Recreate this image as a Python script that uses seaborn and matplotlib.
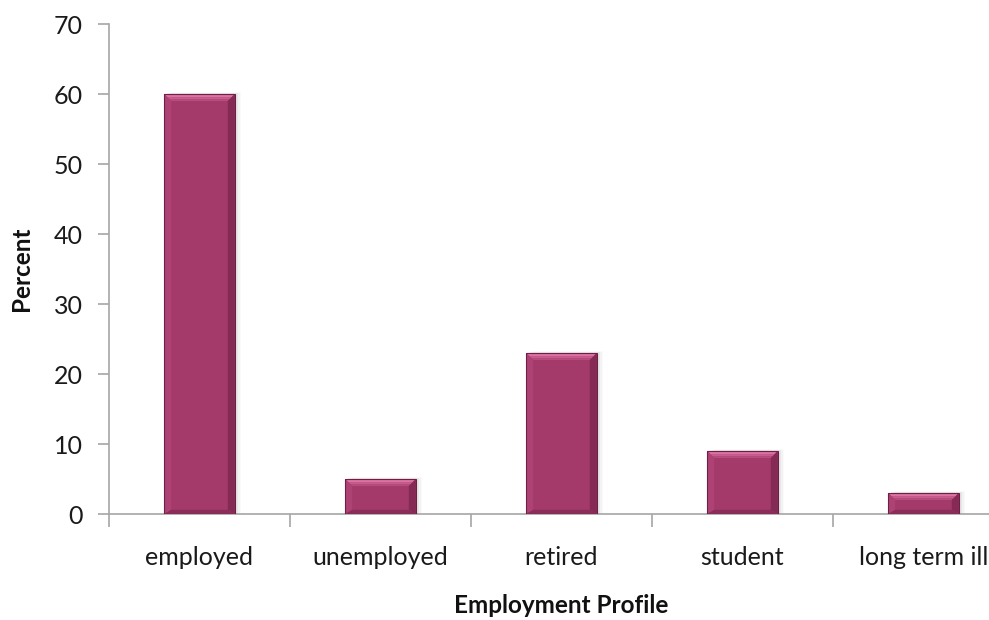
import matplotlib
matplotlib.use("Agg")
import matplotlib.pyplot as plt
from matplotlib.patches import Polygon, Rectangle
import seaborn as sns
import pandas as pd
import numpy as np

categories = ["employed", "unemployed", "retired", "student", "long term ill"]
percent = [60, 5, 23, 9, 3]
y_ticks = [0, 10, 20, 30, 40, 50, 60, 70]

sns.set_theme(style="white")
plt.rcParams["font.family"] = ["Lato", "DejaVu Sans"]

df = pd.DataFrame({"Employment Profile": categories, "Percent": percent})

W, H = 989, 620
fig = plt.figure(figsize=(W / 100, H / 100), dpi=100)
ax = fig.add_axes([109 / W, 106 / H, 905 / W, 490 / H])

base = "#A33A6A"
sns.barplot(data=df, x="Employment Profile", y="Percent", color=base,
            saturation=1, width=0.39, ax=ax, edgecolor="none", zorder=3)

ax.set_xlim(-0.5, len(categories) - 0.5)
ax.set_ylim(0, 70)
ax.set_yticks(y_ticks)
ax.set_yticklabels([str(t) for t in y_ticks])

# pixel sizes -> data units
px_x = (len(categories)) / 905.0
px_y = 70 / 490.0
bev = 7

for p in list(ax.patches):
    x0, w, h = p.get_x(), p.get_width(), p.get_height()
    x1 = x0 + w
    bx, by = bev * px_x, bev * px_y
    # soft drop shadow
    for k, a in enumerate([0.10, 0.07, 0.045, 0.025]):
        off = (k + 1) * 1.6
        ax.add_patch(Rectangle((x0 + off * px_x, 0), w, h + off * 0.3 * px_y,
                               facecolor="#505050", alpha=a, edgecolor="none", zorder=2))
    # bevel faces, top face shaded in bands
    n = 4
    cols = ["#EC86B2", "#DC72A1", "#C85C8E", "#B74C7E"]
    for i in range(n):
        t0, t1 = i / n, (i + 1) / n
        ax.add_patch(Polygon([(x0 + bx * t0, h - by * t0), (x1 - bx * t0, h - by * t0),
                              (x1 - bx * t1, h - by * t1), (x0 + bx * t1, h - by * t1)],
                             closed=True, facecolor=cols[i], edgecolor="none", zorder=4))
    left = Polygon([(x0, 0), (x0, h), (x0 + bx, h - by), (x0 + bx, by * 0.6)],
                   closed=True, facecolor="#AE4275", edgecolor="none", zorder=4)
    right = Polygon([(x1, 0), (x1, h), (x1 - bx, h - by), (x1 - bx, by * 0.6)],
                    closed=True, facecolor="#842A55", edgecolor="none", zorder=4)
    bottom = Polygon([(x0, 0), (x1, 0), (x1 - bx, by * 0.6), (x0 + bx, by * 0.6)],
                     closed=True, facecolor="#8A2D59", edgecolor="none", zorder=4)
    for poly in (left, right, bottom):
        ax.add_patch(poly)
    ax.add_patch(Rectangle((x0, 0), w, h, facecolor="none",
                           edgecolor="#6E1F45", linewidth=0.8, zorder=5))

for s in ["top", "right"]:
    ax.spines[s].set_visible(False)
for s in ["left", "bottom"]:
    ax.spines[s].set_color("#A6A6A6")
    ax.spines[s].set_linewidth(1.2)

ax.set_xticks(np.arange(-0.5, len(categories) + 0.5, 1.0), minor=True)
ax.tick_params(axis="x", which="minor", length=9, width=1.2, color="#A6A6A6",
               direction="out", bottom=True)
ax.tick_params(axis="x", which="major", length=0, pad=23, labelsize=18,
               labelcolor="#1a1a1a")
ax.tick_params(axis="y", which="major", length=8, width=1.2, color="#A6A6A6",
               direction="out", left=True, pad=11, labelsize=18,
               labelcolor="#1a1a1a")

ax.set_xlabel("Employment Profile", fontsize=17.5, fontweight="bold",
              color="#111111", labelpad=18)
ax.set_ylabel("Percent", fontsize=17.5, fontweight="bold", color="#111111",
              labelpad=15)
ax.grid(False)

fig.savefig("out.png", dpi=100)
